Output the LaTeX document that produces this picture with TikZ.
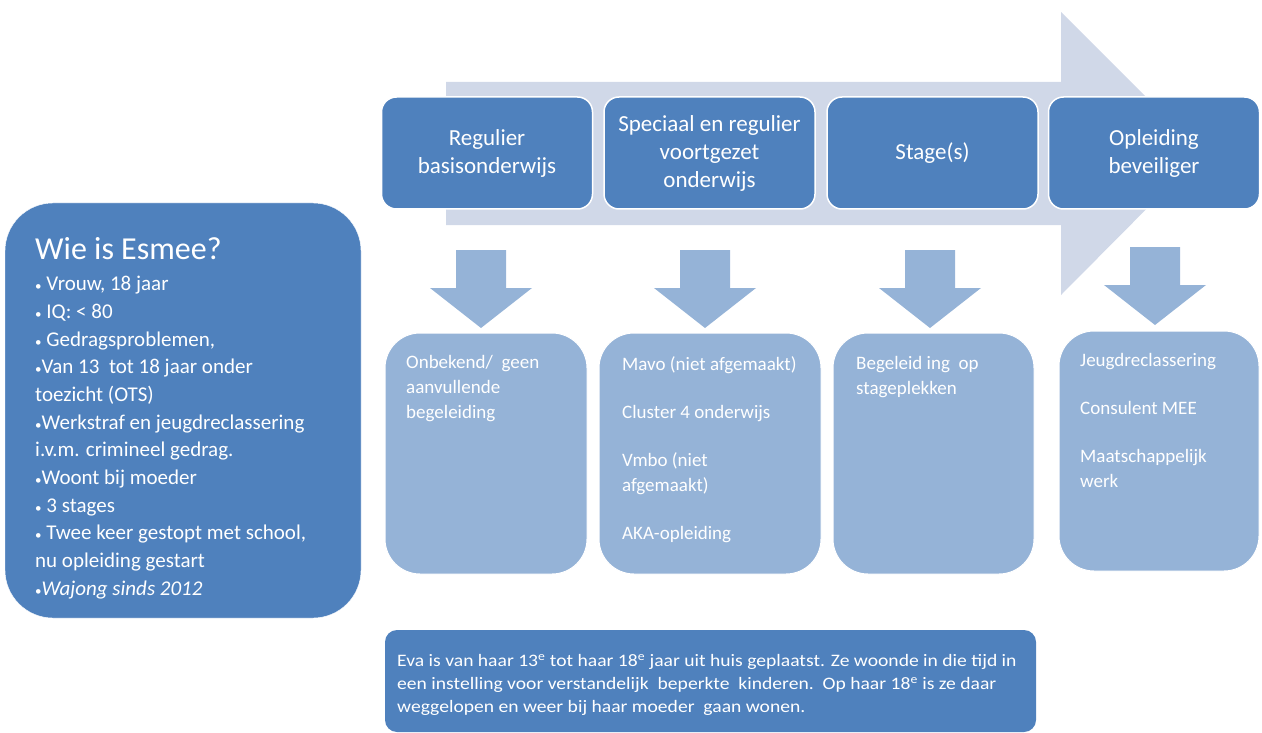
\documentclass[tikz,border=0pt]{standalone}
\usepackage{fontspec}
\setmainfont{Carlito}
\newfontfamily\breed[FakeStretch=1.12]{Carlito}
\usepackage{tikz}
\usetikzlibrary{positioning,calc}

\definecolor{esmdark}{HTML}{4F81BD}
\definecolor{esmlight}{HTML}{95B3D7}
\definecolor{esmpale}{HTML}{D0D8E8}

\newcommand{\stip}{{\fontsize{13}{13}\selectfont\textbullet}}

\tikzset{
  fase/.style={draw=white, line width=1.5pt, fill=esmdark, rounded corners=15pt,
    minimum width=211pt, minimum height=112pt, text=white, align=center,
    font=\fontsize{23}{28}\selectfont},
  hulp/.style={draw=white, line width=1pt, fill=esmlight, rounded corners=35pt,
    minimum height=241pt},
  hulptekst/.style={anchor=north west, inner sep=0pt, text=white, align=left,
    font=\fontsize{19}{25}\selectfont},
  pijl/.style={fill=esmlight}
}

\begin{document}
\begin{tikzpicture}[x=1pt,y=-1pt]
		\useasboundingbox (0,0) rectangle (1262,733);
		% grote pijl op de achtergrond
		\fill[esmpale] (446,82) -- (1061,82) -- (1061,12) -- (1202,153) -- (1061,295) -- (1061,225) -- (446,225) -- cycle;
		% wie is Esmee
		\node[draw=white, fill=esmdark, rounded corners=48pt, minimum width=356pt, minimum height=415pt] (esmee) at (183,410.5) {};
		\node[anchor=north west, inner sep=0pt, text=white, font=\fontsize{32}{36}\selectfont] (titel) at (35,237) {Wie is Esmee?};
		\node[anchor=north west, inner sep=0pt, text=white, align=left, font=\fontsize{21}{27.7}\selectfont] (kenmerken) at (35,276)
		{\stip\ Vrouw, 18 jaar\\ \stip\ IQ: < 80\\ \stip\ Gedragsproblemen,\\ \stip Van 13\ \ tot 18 jaar onder\\ toezicht (OTS)\\
		 \stip Werkstraf en jeugdreclassering\\ i.v.m. crimineel gedrag.\\ \stip Woont bij moeder\\ \stip\ 3 stages\\
		 \stip\ Twee keer gestopt met school,\\ nu opleiding gestart\\ \stip\textit{Wajong sinds 2012}};
		% fasen
		\node[fase] (basis) at (487,153) {Regulier\\ basisonderwijs};
		\node[fase] (voortgezet) at (709.5,153) {Speciaal en regulier\\ voortgezet\\ onderwijs};
		\node[fase] (stage) at (932.5,153) {Stage(s)};
		\node[fase] (beveiliger) at (1154,153) {Opleiding\\ beveiliger};
		% pijlen naar beneden
		\foreach \px/\py in {481/250, 705/250, 930/250, 1155/247}
			\fill[pijl] (\px-25,\py) -- (\px+25,\py) -- (\px+25,\py+38) -- (\px+51,\py+38) -- (\px,\py+78)
				-- (\px-51,\py+38) -- (\px-25,\py+38) -- cycle;
		% begeleiding
		\node[hulp, minimum width=202pt] (hulpbasis) at (486,453.5) {};
		\node[hulp, minimum width=222pt] (hulpvoortgezet) at (710,453.5) {};
		\node[hulp, minimum width=201pt] (hulpstage) at (933.5,453.5) {};
		\node[hulp, minimum width=200pt, minimum height=240pt] (hulpbeveiliger) at (1159,451) {};
		\node[hulptekst] (tekstbasis) at (406,355) {Onbekend/\ \ geen\\ aanvullende\\ begeleiding};
		\node[hulptekst] (tekstvoortgezet) at (622,356) {Mavo (niet afgemaakt)\\[23pt] Cluster 4 onderwijs\\[23pt] Vmbo (niet\\ afgemaakt)\\[23pt] AKA-opleiding};
		\node[hulptekst] (tekststage) at (856,356) {Begeleid ing\ \ op\\ stageplekken};
		\node[hulptekst] (tekstbeveiliger) at (1080,353) {Jeugdreclassering\\[23pt] Consulent MEE\\[23pt] Maatschappelijk\\ werk};
		% uit huis geplaatst
		\node[fill=esmdark, rounded corners=12pt, minimum width=651pt, minimum height=102pt] (uithuis) at (710.5,681) {};
		\node[anchor=north west, inner sep=0pt, text=white, align=left, font=\breed\fontsize{17.5}{23}\selectfont] (uithuistekst) at (397,654)
		{Eva is van haar 13\textsuperscript{e} tot haar 18\textsuperscript{e} jaar uit huis geplaatst. Ze woonde in die tijd in\\
		 een instelling voor verstandelijk\ \ beperkte\ \ kinderen.\ \ Op haar 18\textsuperscript{e} is ze daar\\
		 weggelopen en weer bij haar moeder\ \ gaan wonen.};
\end{tikzpicture}
\end{document}
